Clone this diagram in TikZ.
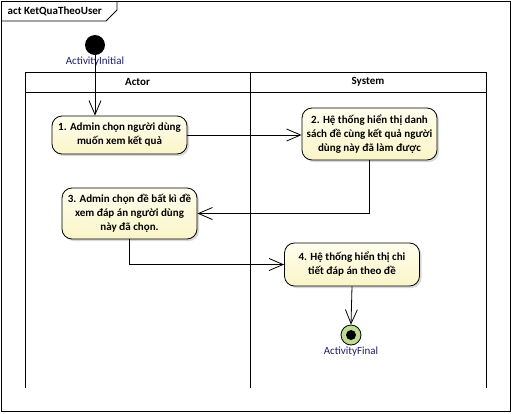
\documentclass[tikz,border=0pt]{standalone}
\usepackage{fontspec}
\setmainfont{Carlito}
\usetikzlibrary{arrows.meta,shadows}
\definecolor{labelblue}{RGB}{30,30,105}
\definecolor{actfill}{RGB}{250,245,200}
\definecolor{actfilltop}{RGB}{255,254,238}
\definecolor{finalfill}{RGB}{190,220,145}
\tikzset{
  action/.style={draw, rounded corners=10pt, top color=actfilltop,
    bottom color=actfill, align=center, font=\bfseries\fontsize{11}{14}\selectfont,
    minimum width=135pt, inner sep=2pt,
    drop shadow={shadow xshift=2pt, shadow yshift=-2pt, fill=black!30}},
  flow/.style={-{Straight Barb[length=14pt,width=12pt]}},
  caption/.style={text=labelblue, font=\fontsize{11}{13}\selectfont},
}
\begin{document}
\begin{tikzpicture}[x=1pt,y=-1pt,line width=0.8pt]
   \useasboundingbox (0,0) rectangle (511,413);
   % frame and title tab
   \draw (1,1) rectangle (510,411);
   \draw (1,21) -- (106,21) -- (117,10) -- (117,1);
   \node[anchor=west, font=\bfseries\fontsize{11}{13}\selectfont] (title) at (4,11) {act KetQuaTheoUser};
   % swimlanes
   \draw (25,388) -- (25,72) -- (486,72) -- (486,388);
   \draw (25,92) -- (486,92);
   \draw (250,72) -- (250,388);
   \node[font=\bfseries\fontsize{11}{13}\selectfont] (actor) at (137.5,82) {Actor};
   \node[font=\bfseries\fontsize{11}{13}\selectfont] (system) at (368,82) {System};
   % start and end
   \node[circle, fill=black, minimum size=20pt, inner sep=0pt] (start) at (95,45) {};
   \node[caption] (startlbl) at (95,62) {ActivityInitial};
   \node[circle, draw, fill=finalfill, minimum size=20pt, inner sep=0pt] (final) at (351,335) {};
   \fill[black] (final) circle (5);
   \node[caption] (finallbl) at (351,352) {ActivityFinal};
   % actions
   \node[action, minimum height=38pt] (act1) at (119.5,135) {1. Admin chọn người dùng\\muốn xem kết quả};
   \node[action, minimum height=52pt] (act2) at (369.5,134) {2. Hệ thống hiển thị danh\\sách đề cùng kết quả người\\dùng này đã làm được};
   \node[action, minimum height=51pt] (act3) at (129.5,213.5) {3. Admin chọn đề bất kì đề\\xem đáp án người dùng\\này đã chọn.};
   \node[action, minimum height=43pt] (act4) at (352,264.5) {4. Hệ thống hiển thị chi\\tiết đáp án theo đề};
   % flows
   \draw[flow] (start) -- (start |- act1.north);
   \draw[flow] (act1.east) -- (act1.east -| act2.west);
   \draw[flow] (act2.south) |- (act3.east);
   \draw[flow] (act3.south) |- (act4.west);
   \draw[flow] (act4.south) -- (final.north);
 \end{tikzpicture}
\end{document}
